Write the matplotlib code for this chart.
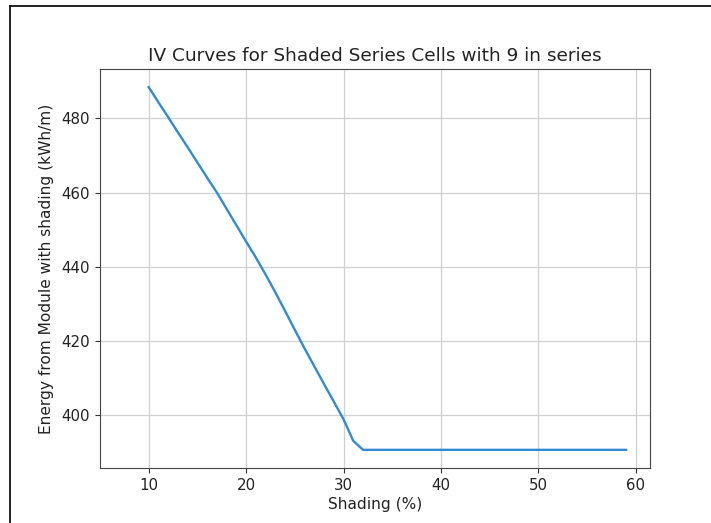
import numpy as np
import matplotlib
matplotlib.use("Agg")
import matplotlib.pyplot as plt
from matplotlib.lines import Line2D

# shading percentage for each run
shading = list(range(10, 60))

# module energy at each shading level (kWh/m)
energy = [488.4, 484.3, 480.3, 476.2, 472.2, 468.1, 464.0, 460.0, 455.6, 451.2,
          446.8, 442.5, 437.9, 433.1, 428.1, 423.0, 418.0, 413.2, 408.4, 403.7,
          398.9, 393.1] + [390.7] * 28

fig = plt.figure(figsize=(7.11, 5.23), dpi=100)
ax = fig.add_axes([0.1406, 0.1052, 0.7736, 0.7629])

ax.plot(shading, energy, color='#348ad0', linewidth=1.7)
ax.set_xlim(5, 61.45)
ax.set_xticks([10, 20, 30, 40, 50, 60])
ax.set_yticks([400, 420, 440, 460, 480])
ax.grid(True, color='#d0d0d0', linewidth=0.9)
ax.tick_params(labelsize=10.8, colors='#333333', labelcolor='#222222', length=3.8)
for s in ax.spines.values():
    s.set_color('#444444')

ax.set_title("IV Curves for Shaded Series Cells with 9 in series", fontsize=13.3, color='#222222', pad=6)
ax.set_xlabel("Shading (%)", fontsize=11.1, color='#222222', labelpad=3)
ax.set_ylabel("Energy from Module with shading (kWh/m)", fontsize=11.1, color='#222222', labelpad=5)

# frame lines along the top and left edge
fig.add_artist(Line2D([9.5 / 711, 1], [1 - 5.5 / 523, 1 - 5.5 / 523], color='#111111', linewidth=1.3, transform=fig.transFigure))
fig.add_artist(Line2D([9.5 / 711, 9.5 / 711], [0, 1 - 5.5 / 523], color='#111111', linewidth=1.3, transform=fig.transFigure))

fig.savefig("out.png", dpi=100)
